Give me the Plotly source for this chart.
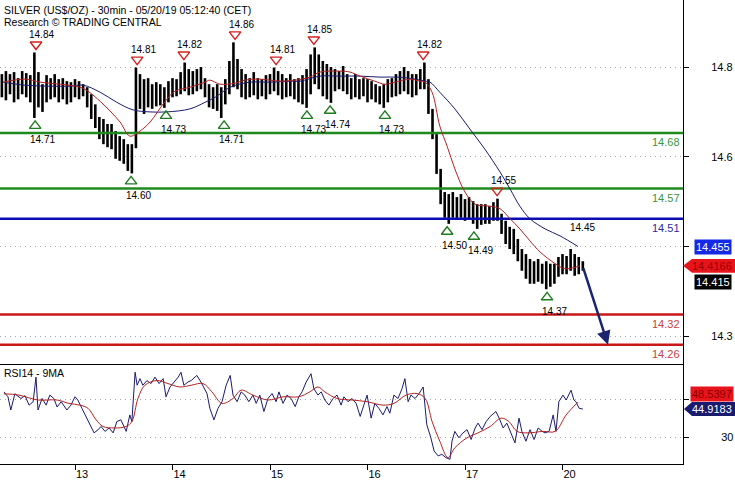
import plotly.graph_objects as go

# ---------------- data ----------------
title_line1 = "SILVER (US$/OZ) - 30min - 05/20/19 05:12:40 (CET)"
title_line2 = "Research © TRADING CENTRAL"
rsi_title = "RSI14 - 9MA"

# hourly price bars (hour counted from start of the 12th)
bar_hours = list(range(6, 150))
bar_high = [14.797, 14.803, 14.797, 14.801, 14.789, 14.803, 14.799, 14.795, 14.840, 14.801,
            14.777, 14.795, 14.789, 14.797, 14.787, 14.789, 14.783, 14.781, 14.787, 14.783,
            14.777, 14.771, 14.757, 14.737, 14.712, 14.708, 14.698, 14.698, 14.684, 14.674,
            14.668, 14.658, 14.658, 14.810, 14.797, 14.787, 14.789, 14.777, 14.781, 14.777,
            14.771, 14.783, 14.789, 14.787, 14.801, 14.820, 14.807, 14.803, 14.807, 14.811,
            14.789, 14.777, 14.771, 14.777, 14.771, 14.787, 14.823, 14.860, 14.827, 14.807,
            14.797, 14.789, 14.801, 14.789, 14.787, 14.795, 14.797, 14.810, 14.803, 14.797,
            14.789, 14.797, 14.787, 14.789, 14.795, 14.807, 14.836, 14.850, 14.836, 14.823,
            14.817, 14.811, 14.807, 14.803, 14.813, 14.797, 14.789, 14.797, 14.787, 14.789,
            14.787, 14.783, 14.777, 14.773, 14.777, 14.787, 14.789, 14.797, 14.803, 14.811,
            14.803, 14.797, 14.797, 14.807, 14.820, 14.787, 14.728, 14.678, 14.609, 14.563,
            14.559, 14.563, 14.553, 14.559, 14.549, 14.553, 14.545, 14.539, 14.539, 14.539,
            14.535, 14.543, 14.550, 14.520, 14.506, 14.494, 14.490, 14.470, 14.450, 14.440,
            14.430, 14.426, 14.430, 14.421, 14.426, 14.421, 14.421, 14.434, 14.440, 14.436,
            14.450, 14.440, 14.434, 14.426]
bar_low = [14.751, 14.745, 14.757, 14.741, 14.747, 14.757, 14.751, 14.741, 14.710, 14.731,
           14.722, 14.741, 14.747, 14.751, 14.741, 14.747, 14.737, 14.741, 14.751, 14.747,
           14.753, 14.731, 14.708, 14.690, 14.668, 14.658, 14.652, 14.648, 14.629, 14.625,
           14.619, 14.605, 14.600, 14.650, 14.728, 14.718, 14.731, 14.728, 14.733, 14.735,
           14.730, 14.741, 14.751, 14.753, 14.757, 14.763, 14.755, 14.757, 14.763, 14.767,
           14.751, 14.731, 14.728, 14.724, 14.710, 14.737, 14.757, 14.771, 14.767, 14.751,
           14.747, 14.751, 14.755, 14.747, 14.753, 14.747, 14.757, 14.763, 14.755, 14.747,
           14.751, 14.753, 14.747, 14.741, 14.737, 14.730, 14.757, 14.777, 14.767, 14.753,
           14.747, 14.740, 14.763, 14.767, 14.763, 14.757, 14.747, 14.751, 14.747, 14.753,
           14.741, 14.747, 14.741, 14.737, 14.730, 14.741, 14.751, 14.753, 14.757, 14.763,
           14.757, 14.751, 14.755, 14.767, 14.767, 14.718, 14.668, 14.599, 14.539, 14.512,
           14.500, 14.512, 14.510, 14.512, 14.506, 14.510, 14.500, 14.490, 14.498, 14.500,
           14.500, 14.506, 14.506, 14.480, 14.460, 14.450, 14.440, 14.426, 14.407, 14.391,
           14.381, 14.381, 14.385, 14.381, 14.370, 14.375, 14.381, 14.395, 14.400, 14.400,
           14.407, 14.397, 14.400, 14.407]

fast_ma_hours = [6.3, 11.7, 15.4, 20.3, 25.2, 27.2, 30.2, 32.6, 35.1, 37.5, 40.0, 42.5, 46.2,
                 48.6, 52.3, 56.0, 57.2, 59.7, 63.4, 65.8, 69.5, 74.5, 78.2, 81.8, 84.3, 89.2,
                 91.7, 94.2, 97.8, 100.3, 102.8, 106.5, 108.9, 110.2, 111.9, 113.8, 115.6,
                 117.5, 120.0, 122.5, 126.2, 128.6, 131.1, 133.5, 136.0, 138.5, 142.2, 144.6, 148.3]
fast_ma = [14.781, 14.787, 14.781, 14.777, 14.771, 14.763, 14.743, 14.724, 14.702, 14.674,
           14.684, 14.702, 14.743, 14.763, 14.771, 14.781, 14.785, 14.777, 14.779, 14.785,
           14.787, 14.783, 14.785, 14.791, 14.801, 14.803, 14.801, 14.793, 14.783, 14.777,
           14.781, 14.787, 14.783, 14.781, 14.761, 14.694, 14.654, 14.609, 14.563, 14.539,
           14.535, 14.530, 14.510, 14.490, 14.466, 14.444, 14.421, 14.411, 14.4166]

slow_ma_hours = [6.3, 11.7, 17.8, 22.8, 26.0, 30.2, 34.3, 38.3, 42.5, 46.6, 52.3, 56.0, 58.5,
                 62.2, 67.1, 72.0, 76.9, 79.4, 84.3, 89.2, 94.2, 99.1, 104.0, 107.7, 110.2,
                 111.4, 113.8, 117.5, 121.2, 124.9, 128.6, 131.1, 133.5, 136.0, 139.7, 143.4, 147.8]
slow_ma = [14.781, 14.775, 14.773, 14.773, 14.775, 14.761, 14.741, 14.726, 14.722, 14.722,
           14.728, 14.741, 14.751, 14.771, 14.781, 14.781, 14.783, 14.783, 14.793, 14.793,
           14.793, 14.791, 14.791, 14.787, 14.783, 14.781, 14.761, 14.728, 14.688, 14.648,
           14.603, 14.569, 14.535, 14.510, 14.490, 14.476, 14.455]

rsi_hours = [6.5, 7.5, 8.2, 9.2, 10.7, 11.7, 12.7, 13.7, 14.4, 14.9, 15.9, 16.9, 17.8, 18.8,
             19.6, 20.6, 22.0, 23.0, 24.0, 24.7, 25.7, 26.7, 27.7, 28.7, 29.7, 30.4, 31.4,
             32.4, 33.4, 34.3, 35.3, 36.6, 37.5, 38.0, 38.8, 39.3, 40.0, 40.7, 41.7, 42.7,
             43.7, 44.7, 45.7, 46.4, 47.4, 48.4, 49.4, 50.1, 50.8, 51.8, 52.6, 54.0, 55.0,
             56.5, 57.2, 58.2, 59.2, 60.2, 61.2, 62.2, 62.9, 63.9, 64.9, 65.8, 66.8, 67.8,
             68.6, 69.5, 70.5, 71.5, 72.5, 73.5, 74.2, 75.2, 76.2, 77.2, 78.2, 79.1, 79.9,
             80.9, 82.1, 82.8, 83.8, 84.6, 85.5, 86.5, 87.5, 88.5, 89.5, 90.2, 91.2, 92.2,
             93.2, 94.2, 95.1, 95.9, 96.9, 97.8, 98.8, 99.8, 100.8, 101.5, 102.5, 103.5,
             104.5, 105.2, 106.0, 106.7, 107.7, 108.7, 109.7, 110.2, 110.6, 111.6, 112.4,
             113.4, 114.3, 115.3, 116.3, 116.8, 117.5, 118.5, 119.5, 120.5, 121.5, 122.5,
             123.2, 124.2, 125.2, 126.2, 127.6, 128.4, 129.4, 130.3, 131.3, 132.3, 133.3,
             134.0, 135.0, 136.0, 137.0, 138.0, 139.0, 139.7, 140.7, 141.7, 142.4, 143.1,
             144.1, 144.9, 146.1, 146.8, 147.3, 148.1, 149.0]
rsi = [54.0, 51.4, 44.4, 53.0, 50.5, 52.0, 47.0, 48.8, 61.8, 44.4, 50.5, 47.0, 52.3, 50.5,
       46.0, 48.8, 44.4, 47.0, 51.4, 49.7, 45.3, 41.0, 36.6, 32.3, 34.0, 35.7, 33.1,
       34.9, 32.3, 38.3, 39.2, 33.1, 41.8, 38.3, 64.4, 57.5, 61.0, 57.5, 60.0, 58.4,
       61.8, 58.4, 61.0, 51.4, 56.6, 59.2, 61.8, 64.4, 57.5, 59.2, 60.0, 62.7, 59.2,
       53.1, 45.3, 39.2, 45.3, 48.8, 57.5, 62.7, 52.3, 48.8, 54.0, 52.3, 48.8, 52.3,
       47.9, 52.3, 43.6, 50.5, 53.1, 48.8, 54.0, 47.9, 52.3, 50.5, 46.2, 51.4, 54.0,
       59.2, 63.6, 55.7, 52.3, 54.0, 49.7, 47.0, 50.5, 52.3, 47.0, 51.4, 48.8, 50.5,
       47.9, 41.0, 47.0, 52.3, 40.1, 47.9, 45.3, 41.8, 46.2, 42.7, 52.3, 50.5,
       55.7, 61.0, 48.8, 52.3, 50.5, 53.1, 56.6, 45.3, 36.6, 29.7, 22.7,
       20.1, 21.0, 19.2, 18.3, 27.9, 33.1, 29.7, 32.3, 34.0, 28.8, 34.9,
       37.5, 34.0, 38.3, 41.0, 43.6, 40.1, 34.9, 37.5, 32.3, 27.0, 40.1,
       33.1, 27.9, 34.0, 28.8, 34.9, 33.1, 32.3, 33.1, 41.8, 33.1, 48.8,
       52.3, 49.7, 54.9, 49.7, 48.8, 45.3, 44.9183]

rsi_ma_hours = [6.5, 10.2, 14.9, 19.6, 22.5, 25.2, 27.2, 29.2, 30.9, 33.8, 36.6, 38.0, 39.5,
                41.2, 44.2, 46.9, 49.8, 52.6, 55.5, 57.7, 60.2, 62.9, 64.9, 67.8, 71.5, 75.2,
                79.1, 81.8, 83.8, 85.5, 88.5, 92.2, 95.9, 99.8, 102.5, 105.5, 108.2, 110.2,
                111.9, 113.8, 115.8, 117.5, 120.5, 123.2, 126.2, 128.9, 130.8, 132.8, 135.5,
                139.2, 142.2, 144.9, 147.8]
rsi_ma = [53.0, 52.3, 49.7, 49.7, 47.9, 47.0, 45.3, 39.2, 35.7, 34.9, 35.7, 38.3, 50.5,
          57.5, 60.0, 58.4, 56.6, 57.5, 58.4, 54.0, 47.9, 50.5, 54.9, 52.3, 49.7, 51.4,
          51.4, 54.0, 56.6, 54.0, 50.5, 49.7, 48.8, 47.0, 47.9, 52.3, 53.1, 50.5,
          38.3, 27.9, 19.2, 24.4, 29.7, 32.3, 35.7, 40.1, 38.3, 33.1, 32.3,
          33.1, 33.1, 41.8, 48.5397]

levels = [14.68, 14.57, 14.51, 14.32, 14.26]
level_labels = ["14.68", "14.57", "14.51", "14.32", "14.26"]

pivot_high_hours = [14.4, 39.3, 50.8, 63.4, 73.5, 82.8, 109.7, 127.9]
pivot_high_vals = [14.84, 14.81, 14.82, 14.86, 14.81, 14.85, 14.82, 14.55]
pivot_low_hours = [14.2, 37.8, 46.4, 60.7, 81.1, 86.8, 100.3, 115.6, 122.2, 140.2]
pivot_low_vals = [14.71, 14.60, 14.73, 14.71, 14.73, 14.74, 14.73, 14.50, 14.49, 14.37]
last_high_hour = 147.0
last_high_val = 14.45

last_hour = 149
last_price = 14.415
fast_ma_last = 14.4166
ref_price = 14.455
rsi_last = 44.9183
rsi_ma_last = 48.5397
target_hour = 155.2
target_price = 14.26

day_tick_hours = [24, 48, 72, 96, 120, 144]
day_labels = ["13", "14", "15", "16", "17", "20"]
price_tick_vals = [14.277, 14.455, 14.633, 14.811]
price_tick_text = ["14.3", "", "14.6", "14.8"]
rsi_tick_vals = [30, 50]
rsi_tick_text = ["30", ""]

# ---------------- style / layout ----------------
W, H = 735, 480
PLOT_RIGHT = 683
P_TOP, P_BOT, R_BOT = 0, 366, 467
Y_RANGE = [14.2225, 14.944]
R_RANGE = [15.8, 68.9]
X_RANGE = [5.54, 173.66]
PXU = (P_BOT - P_TOP) / (Y_RANGE[1] - Y_RANGE[0])  # pixels per price unit
RPXU = (R_BOT - P_BOT) / (R_RANGE[1] - R_RANGE[0])
FONT = "Liberation Sans"

GREEN = "#1f8b1f"
BLUE = "#0c0cb4"
RED = "#c81818"
NAVY = "#1a1a70"
MA_RED = "#b22222"

level_colors = [GREEN, GREEN, BLUE, RED, RED]
level_text_colors = ["#3c963c", "#3c963c", "#2a2aa0", "#c84040", "#c84040"]

fig = go.Figure()

# price bars
bx, by = [], []
for h, hi, lo in zip(bar_hours, bar_high, bar_low):
    bx += [h, h, None]
    by += [lo, hi, None]
fig.add_trace(go.Scatter(x=bx, y=by, mode="lines", line=dict(color="black", width=2.6),
                         hoverinfo="skip", xaxis="x", yaxis="y"))

# level lines
for lv, c in zip(levels, level_colors):
    fig.add_trace(go.Scatter(x=[bar_hours[0] - 0.5, X_RANGE[1]], y=[lv, lv], mode="lines",
                             line=dict(color=c, width=2.5), xaxis="x", yaxis="y", hoverinfo="skip"))

# moving averages
fig.add_trace(go.Scatter(x=slow_ma_hours, y=slow_ma, mode="lines", line=dict(color=NAVY, width=1, shape="spline"),
                         xaxis="x", yaxis="y"))
fig.add_trace(go.Scatter(x=fast_ma_hours, y=fast_ma, mode="lines", line=dict(color=MA_RED, width=1, shape="spline"),
                         xaxis="x", yaxis="y"))

# pivot triangles
off = 8 / PXU
fig.add_trace(go.Scatter(x=pivot_high_hours, y=[v + off for v in pivot_high_vals], mode="markers",
                         marker=dict(symbol="triangle-down-open", size=10, color="#d42020", line=dict(width=1.4)),
                         xaxis="x", yaxis="y"))
fig.add_trace(go.Scatter(x=pivot_low_hours, y=[v - off for v in pivot_low_vals], mode="markers",
                         marker=dict(symbol="triangle-up-open", size=10, color="#1e7b1e", line=dict(width=1.4)),
                         xaxis="x", yaxis="y"))

# RSI
fig.add_trace(go.Scatter(x=rsi_hours, y=rsi, mode="lines", line=dict(color=NAVY, width=1),
                         xaxis="x2", yaxis="y2"))
fig.add_trace(go.Scatter(x=rsi_ma_hours, y=rsi_ma, mode="lines", line=dict(color=MA_RED, width=1, shape="spline"),
                         xaxis="x2", yaxis="y2"))

ann = []
# titles
ann.append(dict(text=title_line1, x=2 / W, y=1 - 2 / H, xref="paper", yref="paper", xanchor="left",
                yanchor="top", showarrow=False, font=dict(family=FONT, size=10.5, color="black")))
ann.append(dict(text=title_line2, x=2 / W, y=1 - 14 / H, xref="paper", yref="paper", xanchor="left",
                yanchor="top", showarrow=False, font=dict(family=FONT, size=10.5, color="black")))
ann.append(dict(text=rsi_title, x=2 / W, y=1 - 367 / H, xref="paper", yref="paper", xanchor="left",
                yanchor="top", showarrow=False, font=dict(family=FONT, size=10.5, color="black")))

# pivot labels
for h, v in zip(pivot_high_hours, pivot_high_vals):
    ann.append(dict(text=f"{v:.2f}", x=h, y=v, xref="x", yref="y", yshift=18, xshift=6, showarrow=False,
                    font=dict(family=FONT, size=10, color="black")))
for h, v in zip(pivot_low_hours, pivot_low_vals):
    ann.append(dict(text=f"{v:.2f}", x=h, y=v, xref="x", yref="y", yshift=-22, xshift=7, showarrow=False,
                    font=dict(family=FONT, size=10, color="black")))
ann.append(dict(text=f"{last_high_val:.2f}", x=last_high_hour, y=last_high_val, xref="x", yref="y",
                yshift=22, xshift=8, showarrow=False, font=dict(family=FONT, size=10, color="black")))

# level labels
for lv, t, c in zip(levels, level_labels, level_text_colors):
    ann.append(dict(text=t, x=(PLOT_RIGHT - 1) / W, y=lv, xref="paper", yref="y", xanchor="right",
                    yanchor="middle", yshift=-9, showarrow=False, font=dict(family=FONT, size=11, color=c)))

# forecast arrow
ann.append(dict(x=target_hour, y=target_price, ax=last_hour, ay=last_price, xref="x", yref="y",
                axref="x", ayref="y", text="", showarrow=True, arrowhead=2, arrowsize=1.1,
                arrowwidth=2.5, arrowcolor="#1b2470", standoff=0))

# right-side value boxes
ann.append(dict(text=f"{ref_price:.3f}", x=732 / W, y=ref_price, xref="paper", yref="y", xanchor="right",
                yanchor="middle", showarrow=False, bgcolor="#1428e6", borderpad=1,
                font=dict(family=FONT, size=11, color="white")))
ann.append(dict(text=f"{last_price:.3f}", x=732 / W, y=last_price, xref="paper", yref="y", xanchor="right",
                yanchor="middle", yshift=-15, showarrow=False, bgcolor="black", borderpad=1,
                font=dict(family=FONT, size=11, color="white")))
ann.append(dict(text=f"{fast_ma_last:.4f}", x=734 / W, y=fast_ma_last, xref="paper", yref="y", xanchor="right",
                yanchor="middle", showarrow=False, font=dict(family=FONT, size=11, color="#9a0000")))
ann.append(dict(text=f"{rsi_ma_last:.4f}", x=734 / W, y=rsi_ma_last, xref="paper", yref="y2", xanchor="right",
                yanchor="middle", yshift=8, showarrow=False, bgcolor="#e8141b", borderpad=1,
                font=dict(family=FONT, size=11, color="#8a0000")))
ann.append(dict(text=f"{rsi_last:.4f}", x=734 / W, y=rsi_last, xref="paper", yref="y2", xanchor="right",
                yanchor="middle", showarrow=False, font=dict(family=FONT, size=11, color="white")))

shapes = []
hh = 7 / PXU
shapes.append(dict(type="path", xref="paper", yref="y", fillcolor="#e8141b", line=dict(width=0),
                   path=f"M {PLOT_RIGHT / W},{fast_ma_last} L {692 / W},{fast_ma_last + hh} L 1,{fast_ma_last + hh} "
                        f"L 1,{fast_ma_last - hh} L {692 / W},{fast_ma_last - hh} Z"))
rh = 7 / RPXU
shapes.append(dict(type="path", xref="paper", yref="y2", fillcolor="#1a1a6e", line=dict(width=0),
                   path=f"M {(PLOT_RIGHT + 1) / W},{rsi_last} L {692 / W},{rsi_last + rh} L 1,{rsi_last + rh} "
                        f"L 1,{rsi_last - rh} L {692 / W},{rsi_last - rh} Z"))

xd = [0, PLOT_RIGHT / W]
fig.update_layout(
    width=W, height=H, margin=dict(l=0, r=0, t=0, b=0), paper_bgcolor="white", plot_bgcolor="white",
    showlegend=False, annotations=ann, shapes=shapes,
    xaxis=dict(domain=xd, range=X_RANGE, anchor="y", showticklabels=False, ticks="", showgrid=False,
               zeroline=False, showline=True, linecolor="black", linewidth=1),
    yaxis=dict(domain=[1 - P_BOT / H, 1], range=Y_RANGE, anchor="x", side="right", showline=True,
               linecolor="black", linewidth=1, ticks="outside", ticklen=5, tickcolor="black",
               tickvals=price_tick_vals, ticktext=price_tick_text, showgrid=True, gridcolor="#a8a8a8",
               griddash="1px,4px", gridwidth=1, zeroline=False, ticklabelstandoff=20,
               tickfont=dict(family=FONT, size=11, color="black")),
    xaxis2=dict(domain=xd, range=X_RANGE, anchor="y2", tickvals=day_tick_hours, ticktext=day_labels,
                ticks="outside", ticklen=5, tickcolor="black", ticklabelposition="outside right",
                showgrid=False, zeroline=False, showline=True, linecolor="black", linewidth=1,
                tickfont=dict(family=FONT, size=11, color="black")),
    yaxis2=dict(domain=[1 - R_BOT / H, 1 - P_BOT / H], range=R_RANGE, anchor="x2", side="right",
                showline=True, linecolor="black", linewidth=1, ticks="outside", ticklen=5,
                tickcolor="black", tickvals=rsi_tick_vals, ticktext=rsi_tick_text, showgrid=True,
                gridcolor="#a8a8a8", griddash="1px,4px", zeroline=False, ticklabelstandoff=30,
                tickfont=dict(family=FONT, size=11, color="black")),
)

fig.write_html("out.html", config={"displayModeBar": False},
               post_script="document.body.style.margin='0px';document.body.style.overflow='hidden';")
